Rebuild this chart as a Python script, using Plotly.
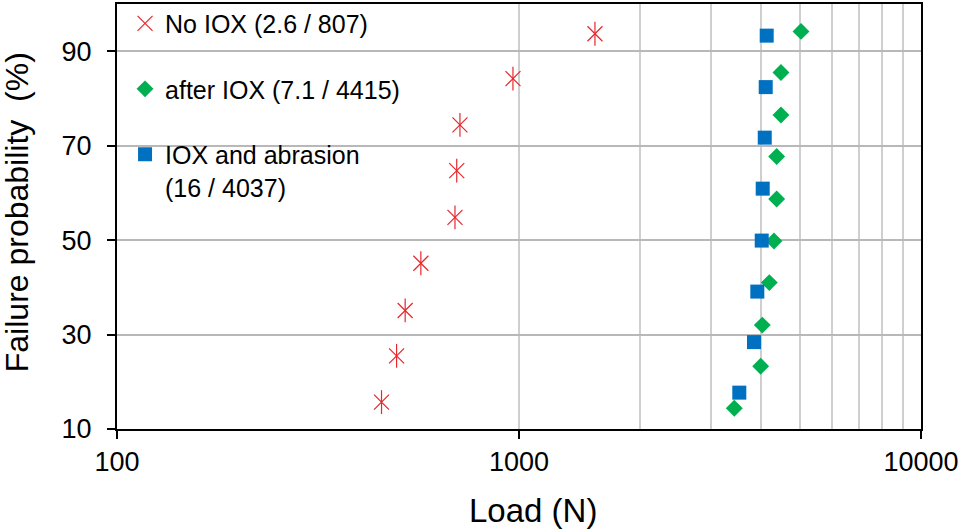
import plotly.graph_objects as go

# No IOX
noiox_load = [1545, 966, 713, 700, 693, 570, 521, 496, 455]
noiox_prob = [93.7, 84.2, 74.4, 64.7, 54.8, 45.1, 35.1, 25.5, 15.7]
# after IOX
iox_load = [5029, 4484, 4484, 4375, 4375, 4308, 4194, 4029, 3992, 3432]
iox_prob = [94.2, 85.5, 76.5, 67.7, 58.7, 49.8, 41.0, 32.0, 23.3, 14.4]
# IOX and abrasion
abr_load = [4132, 4109, 4086, 4039, 4016, 3916, 3842, 3532]
abr_prob = [93.3, 82.4, 71.7, 60.9, 49.9, 39.1, 28.4, 17.7]

names = ["No IOX (2.6 / 807)", "after IOX (7.1 / 4415)", "IOX and abrasion<br>(16 / 4037)"]
x_title = "Load (N)"
y_title = "Failure probability  (%)"
x_ticks = [100, 1000, 10000]
x_minor_grid = [2000, 3000, 4000, 5000, 6000, 7000, 8000, 9000]
y_ticks = [10, 30, 50, 70, 90]

RED = "#E8262B"
GREEN = "#00B050"
BLUE = "#0070C0"

fig = go.Figure()
fig.add_trace(go.Scatter(
    x=noiox_load, y=noiox_prob, mode="markers", name=names[0],
    legendgroup="a",
    marker=dict(symbol="x-thin-open", size=15, color=RED, line=dict(color=RED, width=1.2)),
))
fig.add_trace(go.Scatter(
    x=noiox_load, y=noiox_prob, mode="markers", showlegend=False,
    legendgroup="a",
    marker=dict(symbol="line-ns-open", size=17, color=RED, line=dict(color=RED, width=1.2)),
))
fig.add_trace(go.Scatter(
    x=iox_load, y=iox_prob, mode="markers", name=names[1],
    legendgroup="b",
    marker=dict(symbol="diamond", size=13, color=GREEN),
))
fig.add_trace(go.Scatter(
    x=abr_load, y=abr_prob, mode="markers", name=names[2],
    legendgroup="c",
    marker=dict(symbol="square", size=14, color=BLUE),
))

font = "Liberation Sans, Arial, sans-serif"
fig.update_layout(
    width=962, height=532,
    margin=dict(l=117, r=41, t=4, b=103, autoexpand=False),
    paper_bgcolor="white", plot_bgcolor="white",
    font=dict(family=font, color="black", size=25),
    showlegend=True,
    legend=dict(
        x=0.01, y=1.008, xanchor="left", yanchor="top",
        bgcolor="rgba(0,0,0,0)", font=dict(size=25, family=font),
        traceorder="grouped", tracegroupgap=30, valign="top",
        itemwidth=30,
    ),
    xaxis=dict(
        type="log", range=[2, 4],
        tickvals=x_ticks, ticktext=[str(v) for v in x_ticks],
        ticks="outside", ticklen=8, tickcolor="black", tickwidth=1.5,
        showline=True, linecolor="black", linewidth=2, mirror=True,
        showgrid=True, gridcolor="#CFCFCF", gridwidth=1.5,
        minor=dict(tickvals=x_minor_grid, showgrid=True, gridcolor="#CFCFCF", gridwidth=1.5, ticks=""),
        tickfont=dict(size=27),
        ticklabelstandoff=0,
        zeroline=False, automargin=False,
    ),
    yaxis=dict(
        range=[10, 100],
        tickvals=y_ticks,
        ticks="outside", ticklen=8, tickcolor="black", tickwidth=1.5,
        showline=True, linecolor="black", linewidth=2, mirror=True,
        showgrid=True, gridcolor="#B8B8B8", gridwidth=1.5,
        tickfont=dict(size=27),
        ticklabelstandoff=10,
        zeroline=False, automargin=False,
    ),
    annotations=[
        dict(text=x_title, xref="paper", yref="paper", x=0.5174, y=-0.1906,
             xanchor="center", yanchor="middle", showarrow=False,
             font=dict(size=33, family=font, color="black")),
        dict(text=y_title, xref="paper", yref="paper", x=-0.1244, y=0.51,
             xanchor="center", yanchor="middle", showarrow=False, textangle=-90,
             font=dict(size=32, family=font, color="black")),
    ],
)

fig.write_html("out.html", config={"displayModeBar": False},
               post_script="document.body.style.margin='0px';")
